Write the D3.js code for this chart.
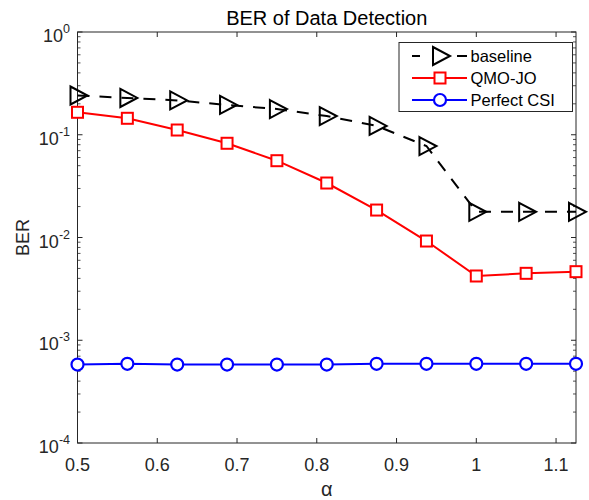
<!DOCTYPE html>
<html><head><meta charset="utf-8">
<script src="https://cdn.jsdelivr.net/npm/d3@7"></script>
<style>body{margin:0;background:#fff}svg{display:block;font-family:"Liberation Sans",Arial,Helvetica,sans-serif}</style>
</head><body>
<script>
const alpha = [0.5,0.5625,0.625,0.6875,0.75,0.8125,0.875,0.9375,1.0,1.0625,1.125];
const baseline = [0.241,0.228,0.216,0.195,0.178,0.152,0.122,0.0777,0.0178,0.0178,0.0178];
const qmojo = [0.1654,0.1446,0.1112,0.0826,0.0559,0.0339,0.0185,0.00924,0.00422,0.00448,0.00465];
const perfect = [0.00058,0.00059,0.00058,0.00058,0.00058,0.00058,0.00059,0.00059,0.00059,0.00059,0.00059];
const xTicks = [0.5,0.6,0.7,0.8,0.9,1.0,1.1];
const xTickLabels = ["0.5","0.6","0.7","0.8","0.9","1","1.1"];
const yExps = [0,-1,-2,-3,-4];
const seriesNames = ["baseline","QMO-JO","Perfect CSI"];

const W=589,H=500, L=77.5, R=576, T=32, B=443;
const axc="#262626";
const svg=d3.select("body").append("svg").attr("width",W).attr("height",H);
const x=d3.scaleLinear().domain([0.5,1.125]).range([L,R]);
const y=d3.scaleLog().domain([1e-4,1]).range([B,T]);

// ticks
const g=svg.append("g");
xTicks.forEach(v=>{
  g.append("line").attr("x1",x(v)).attr("x2",x(v)).attr("y1",B).attr("y2",B-5).attr("stroke",axc);
  g.append("line").attr("x1",x(v)).attr("x2",x(v)).attr("y1",T).attr("y2",T+5).attr("stroke",axc);
});
for(let e=-4;e<0;e++){
  for(let m=2;m<=9;m++){
    const v=m*Math.pow(10,e);
    g.append("line").attr("x1",L).attr("x2",L+3).attr("y1",y(v)).attr("y2",y(v)).attr("stroke",axc).attr("stroke-width",0.8);
    g.append("line").attr("x1",R).attr("x2",R-3).attr("y1",y(v)).attr("y2",y(v)).attr("stroke",axc).attr("stroke-width",0.8);
  }
}
yExps.forEach(e=>{
  const v=Math.pow(10,e);
  g.append("line").attr("x1",L).attr("x2",L+5).attr("y1",y(v)).attr("y2",y(v)).attr("stroke",axc);
  g.append("line").attr("x1",R).attr("x2",R-5).attr("y1",y(v)).attr("y2",y(v)).attr("stroke",axc);
});
g.append("rect").attr("x",L).attr("y",T).attr("width",R-L).attr("height",B-T).attr("fill","none").attr("stroke",axc).attr("stroke-width",1);

// tick labels
xTicks.forEach((v,i)=>{
  g.append("text").attr("x",x(v)).attr("y",B+28).attr("text-anchor","middle").attr("font-size",18).attr("fill",axc).text(xTickLabels[i]);
});
yExps.forEach(e=>{
  const t=g.append("text").attr("x",L-7.5).attr("y",y(Math.pow(10,e))+10).attr("text-anchor","end").attr("font-size",18).attr("fill",axc);
  t.append("tspan").text("10");
  t.append("tspan").attr("font-size",12.5).attr("dy",-9).text(String(e));
});

// title and labels
svg.append("text").attr("x",(L+R)/2).attr("y",25).attr("text-anchor","middle").attr("font-size",20).attr("fill","#000").text("BER of Data Detection");
svg.append("text").attr("transform",`translate(28.5,${(T+B)/2}) rotate(-90)`).attr("text-anchor","middle").attr("font-size",18).attr("fill",axc).text("BER");
svg.append("text").attr("x",(L+R)/2).attr("y",496).attr("text-anchor","middle").attr("font-size",20).attr("fill",axc).text("α");

// series
const line=d3.line().x(d=>x(d[0])).y(d=>y(d[1]));
const sets=[
  {vals:baseline,color:"#000",dash:"12,10",marker:"tri"},
  {vals:qmojo,color:"#ff0000",dash:null,marker:"sq"},
  {vals:perfect,color:"#0000ff",dash:null,marker:"circ"}
];
function drawMarker(sel,type,cx,cy,color){
  if(type==="tri"){
    sel.append("path").attr("d",`M${cx-7},${cy-9}L${cx+10},${cy}L${cx-7},${cy+9}Z`).attr("fill","none").attr("stroke",color).attr("stroke-width",2).attr("stroke-linejoin","miter");
  } else if(type==="sq"){
    sel.append("rect").attr("x",cx-5.5).attr("y",cy-5.5).attr("width",11).attr("height",11).attr("fill","#fff").attr("stroke",color).attr("stroke-width",2);
  } else {
    sel.append("circle").attr("cx",cx).attr("cy",cy).attr("r",6).attr("fill","#fff").attr("stroke",color).attr("stroke-width",2.2);
  }
}
sets.forEach(s=>{
  const data=alpha.map((a,i)=>[a,s.vals[i]]);
  const p=svg.append("path").attr("d",line(data)).attr("fill","none").attr("stroke",s.color).attr("stroke-width",2);
  if(s.dash) p.attr("stroke-dasharray",s.dash);
  const mg=svg.append("g");
  data.forEach(d=>drawMarker(mg,s.marker,x(d[0]),y(d[1]),s.color));
});

// legend
const lg=svg.append("g");
lg.append("rect").attr("x",399).attr("y",42.5).attr("width",173.5).attr("height",69).attr("fill","#fff").attr("stroke",axc).attr("stroke-width",1);
const ly=[56,78,100];
sets.forEach((s,i)=>{
  const l=lg.append("line").attr("x1",412).attr("x2",467).attr("y1",ly[i]).attr("y2",ly[i]).attr("stroke",s.color).attr("stroke-width",2);
  if(s.dash) l.attr("stroke-dasharray","8,37,10,100");
  drawMarker(lg,s.marker,440,ly[i],s.color);
  lg.append("text").attr("x",470.5).attr("y",ly[i]+6).attr("font-size",16.5).attr("fill","#000").text(seriesNames[i]);
});
</script>
</body></html>
